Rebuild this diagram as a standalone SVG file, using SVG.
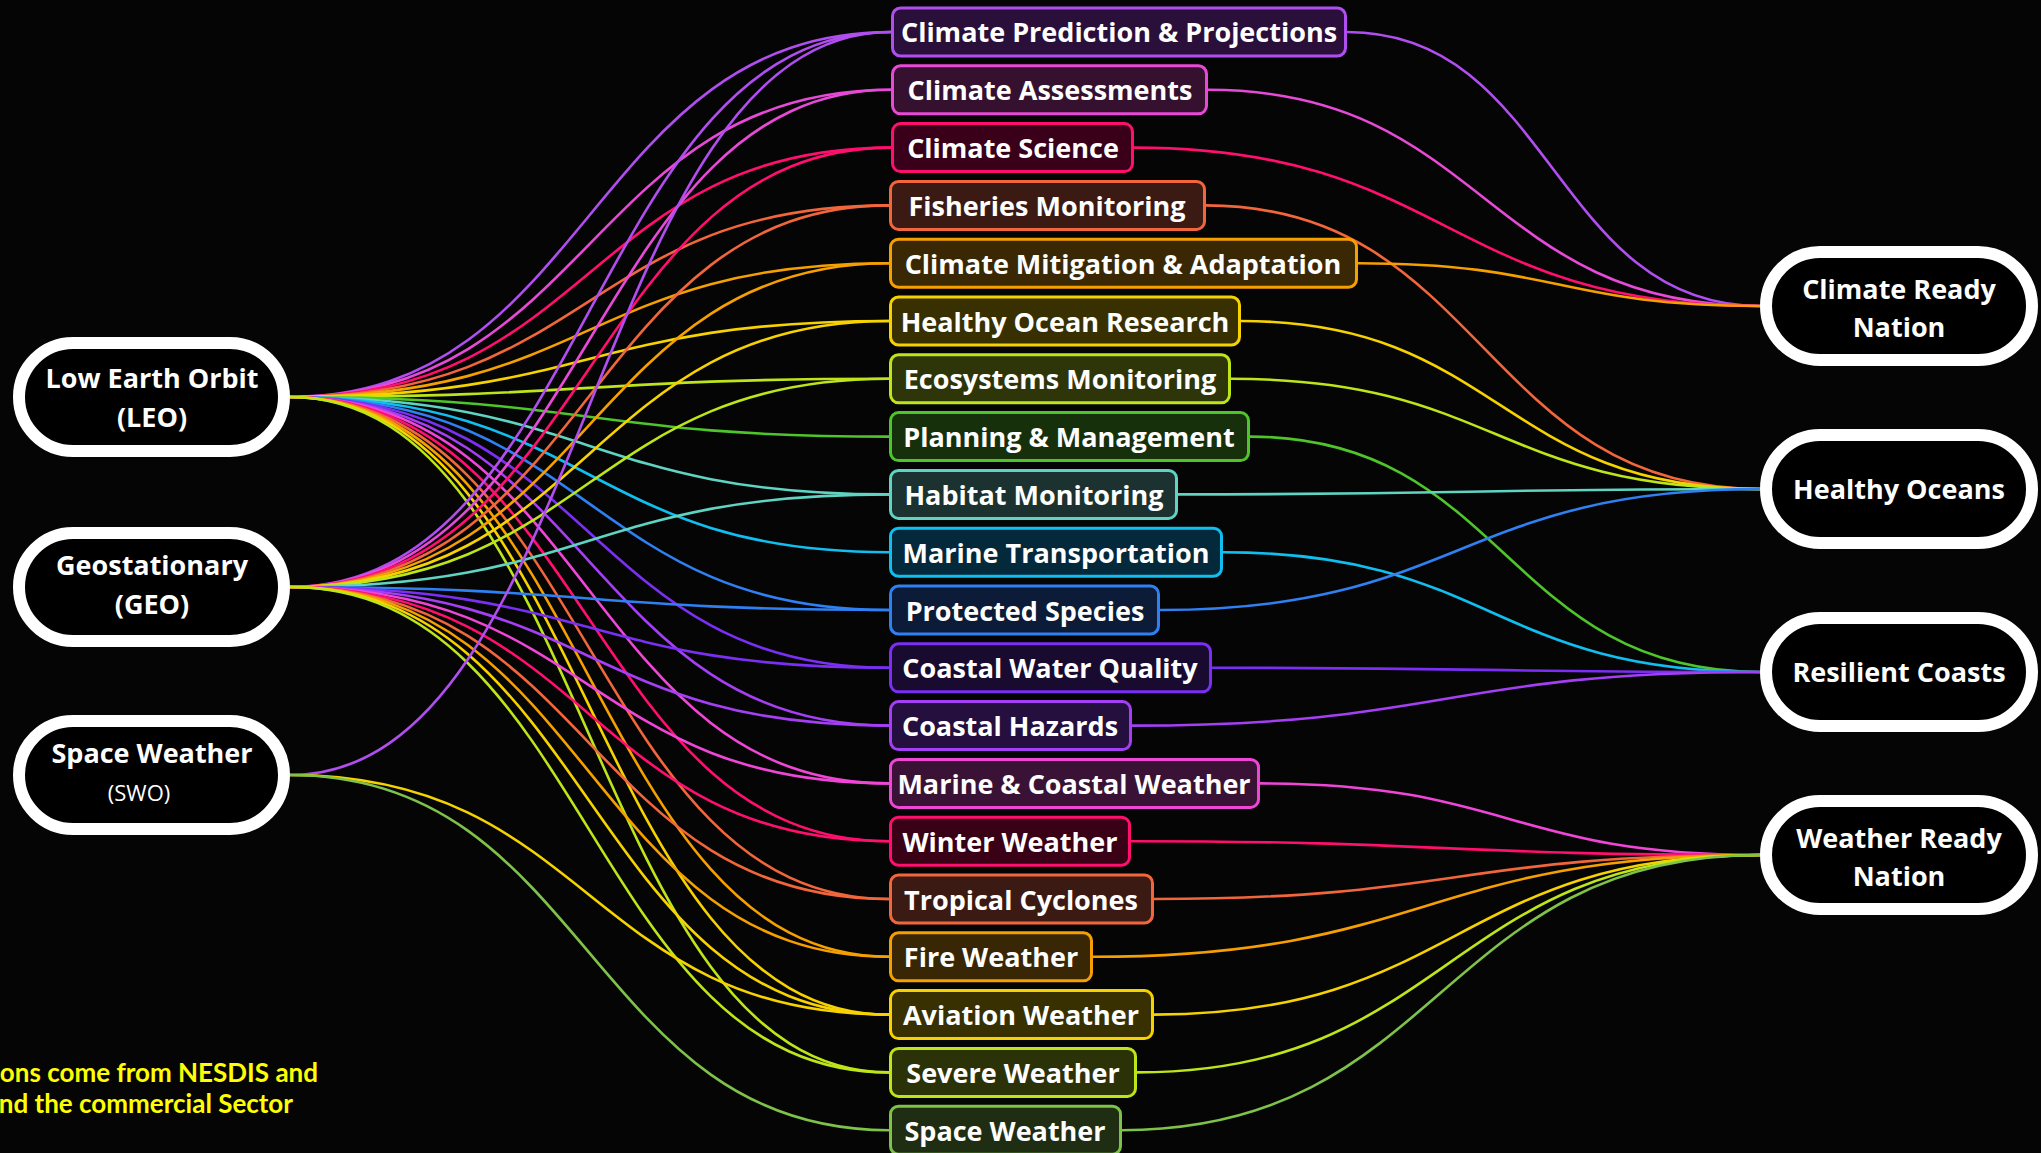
<svg xmlns="http://www.w3.org/2000/svg" width="2041" height="1153" viewBox="0 0 2041 1153">
<style>
.bg{fill:#050505}
.conn path{fill:none;stroke-width:2.6}
.pill{fill:#000;stroke:#fff;stroke-width:12}
.pt{font-family:"Open Sans","Noto Sans",sans-serif;font-weight:700;font-size:27px;fill:#fff;text-anchor:middle}
.sub{font-family:"Open Sans","Noto Sans",sans-serif;font-weight:400;font-size:22px;fill:#fff;text-anchor:middle}
.box{stroke-width:3}
.lbl{font-family:"Open Sans","Noto Sans",sans-serif;font-weight:700;font-size:27px;fill:#fff;text-anchor:middle}
.note{font-family:Lato,"Open Sans",sans-serif;font-weight:700;font-size:26px;fill:#ffff00;text-anchor:end}
.s0{stroke:#b14ef0}.f0{fill:#2b0f3b}
.s1{stroke:#e84ad8}.f1{fill:#35112f}
.s2{stroke:#ff0f6e}.f2{fill:#3a0019}
.s3{stroke:#f2663c}.f3{fill:#3a1a12}
.s4{stroke:#f5a000}.f4{fill:#3a2805}
.s5{stroke:#f5d200}.f5{fill:#383000}
.s6{stroke:#bde51a}.f6{fill:#2e3508}
.s7{stroke:#4ec52a}.f7{fill:#17300c}
.s8{stroke:#5fd4c2}.f8{fill:#1b3230}
.s9{stroke:#10bfef}.f9{fill:#03293a}
.s10{stroke:#2f80f2}.f10{fill:#0b1b38}
.s11{stroke:#7b2ff5}.f11{fill:#190b30}
.s12{stroke:#a43ff5}.f12{fill:#250f3e}
.s13{stroke:#f046d8}.f13{fill:#3a1236}
.s14{stroke:#ff0f6e}.f14{fill:#3a0016}
.s15{stroke:#f2663c}.f15{fill:#3a1a12}
.s16{stroke:#f5a000}.f16{fill:#382605}
.s17{stroke:#f5d200}.f17{fill:#383000}
.s18{stroke:#bde51a}.f18{fill:#2c3208}
.s19{stroke:#7fc24a}.f19{fill:#1f2e12}
</style>
<rect class="bg" x="0" y="0" width="2041" height="1153"/>

<g id="connectors" class="conn">
<!-- LEO -->
<path class="s0" d="M290,397 C590,397 590,32 891,32"/>
<path class="s1" d="M290,397 C590,397 590,89.8 891,89.8"/>
<path class="s2" d="M290,397 C590,397 590,147.6 891,147.6"/>
<path class="s3" d="M290,397 C589,397 589,205.4 889,205.4"/>
<path class="s4" d="M290,397 C589,397 589,263.2 889,263.2"/>
<path class="s5" d="M290,397 C589,397 589,321 889,321"/>
<path class="s6" d="M290,397 C589,397 589,378.8 889,378.8"/>
<path class="s7" d="M290,397 C589,397 589,436.6 889,436.6"/>
<path class="s8" d="M290,397 C589,397 589,494.4 889,494.4"/>
<path class="s9" d="M290,397 C589,397 589,552.2 889,552.2"/>
<path class="s10" d="M290,397 C589,397 589,610 889,610"/>
<path class="s11" d="M290,397 C589,397 589,667.8 889,667.8"/>
<path class="s12" d="M290,397 C589,397 589,725.6 889,725.6"/>
<path class="s13" d="M290,397 C589,397 589,783.4 889,783.4"/>
<path class="s14" d="M290,397 C589,397 589,841.2 889,841.2"/>
<path class="s15" d="M290,397 C589,397 589,899 889,899"/>
<path class="s16" d="M290,397 C589,397 589,956.8 889,956.8"/>
<path class="s17" d="M290,397 C589,397 589,1014.6 889,1014.6"/>
<path class="s18" d="M290,397 C589,397 589,1072.4 889,1072.4"/>
<!-- GEO -->
<path class="s0" d="M290,587 C590,587 590,32 891,32"/>
<path class="s1" d="M290,587 C590,587 590,89.8 891,89.8"/>
<path class="s2" d="M290,587 C590,587 590,147.6 891,147.6"/>
<path class="s3" d="M290,587 C589,587 589,205.4 889,205.4"/>
<path class="s4" d="M290,587 C589,587 589,263.2 889,263.2"/>
<path class="s5" d="M290,587 C589,587 589,321 889,321"/>
<path class="s6" d="M290,587 C589,587 589,378.8 889,378.8"/>
<path class="s8" d="M290,587 C589,587 589,494.4 889,494.4"/>
<path class="s10" d="M290,587 C589,587 589,610 889,610"/>
<path class="s11" d="M290,587 C589,587 589,667.8 889,667.8"/>
<path class="s12" d="M290,587 C589,587 589,725.6 889,725.6"/>
<path class="s13" d="M290,587 C589,587 589,783.4 889,783.4"/>
<path class="s14" d="M290,587 C589,587 589,841.2 889,841.2"/>
<path class="s15" d="M290,587 C589,587 589,899 889,899"/>
<path class="s16" d="M290,587 C589,587 589,956.8 889,956.8"/>
<path class="s17" d="M290,587 C589,587 589,1014.6 889,1014.6"/>
<path class="s18" d="M290,587 C589,587 589,1072.4 889,1072.4"/>
<!-- SWO -->
<path class="s0" d="M290,775 C590,775 590,32 891,32"/>
<path class="s17" d="M290,775 C589,775 589,1014.6 889,1014.6"/>
<path class="s19" d="M290,775 C589,775 589,1130.2 889,1130.2"/>
<!-- right side -->
<path class="s0" d="M1347,32 C1553,32 1553,306 1760,306"/>
<path class="s1" d="M1208,89.8 C1484,89.8 1484,306 1760,306"/>
<path class="s2" d="M1134,147.6 C1447,147.6 1447,306 1760,306"/>
<path class="s3" d="M1206,205.4 C1483,205.4 1483,489 1760,489"/>
<path class="s4" d="M1358,263.2 C1559,263.2 1559,306 1760,306"/>
<path class="s5" d="M1241,321 C1500,321 1500,489 1760,489"/>
<path class="s6" d="M1231,378.8 C1495,378.8 1495,489 1760,489"/>
<path class="s7" d="M1250,436.6 C1505,436.6 1505,672 1760,672"/>
<path class="s8" d="M1178,494.4 C1469,494.4 1469,489 1760,489"/>
<path class="s9" d="M1223,552.2 C1491,552.2 1491,672 1760,672"/>
<path class="s10" d="M1160,610 C1460,610 1460,489 1760,489"/>
<path class="s11" d="M1212,667.8 C1486,667.8 1486,672 1760,672"/>
<path class="s12" d="M1132,725.6 C1446,725.6 1446,672 1760,672"/>
<path class="s13" d="M1260,783.4 C1510,783.4 1510,855 1760,855"/>
<path class="s14" d="M1131,841.2 C1445,841.2 1445,855 1760,855"/>
<path class="s15" d="M1154,899 C1457,899 1457,855 1760,855"/>
<path class="s16" d="M1093,956.8 C1426,956.8 1426,855 1760,855"/>
<path class="s17" d="M1154,1014.6 C1457,1014.6 1457,855 1760,855"/>
<path class="s18" d="M1137,1072.4 C1448,1072.4 1448,855 1760,855"/>
<path class="s19" d="M1122,1130.2 C1441,1130.2 1441,855 1760,855"/>
</g>

<!-- left source nodes -->
<g id="leo"><rect class="pill" x="19" y="343" width="265" height="108" rx="54"/><text class="pt" x="152" y="388">Low Earth Orbit</text><text class="pt" x="152" y="427">(LEO)</text></g>
<g id="geo"><rect class="pill" x="19" y="533" width="265" height="108" rx="54"/><text class="pt" x="152" y="575">Geostationary</text><text class="pt" x="152" y="614">(GEO)</text></g>
<g id="swo"><rect class="pill" x="19" y="721" width="265" height="108" rx="54"/><text class="pt" x="152" y="763">Space Weather</text><rect x="87" y="778" width="105" height="35" fill="#000"/><text class="sub" x="139" y="801">(SWO)</text></g>

<!-- right goal nodes -->
<g id="climate-ready"><rect class="pill" x="1766" y="252" width="266" height="108" rx="54"/><text class="pt" x="1899" y="299">Climate Ready</text><text class="pt" x="1899" y="337">Nation</text></g>
<g id="healthy-oceans"><rect class="pill" x="1766" y="435" width="266" height="108" rx="54"/><text class="pt" x="1899" y="499">Healthy Oceans</text></g>
<g id="resilient-coasts"><rect class="pill" x="1766" y="618" width="266" height="108" rx="54"/><text class="pt" x="1899" y="682">Resilient Coasts</text></g>
<g id="weather-ready"><rect class="pill" x="1766" y="801" width="266" height="108" rx="54"/><text class="pt" x="1899" y="848">Weather Ready</text><text class="pt" x="1899" y="886">Nation</text></g>

<!-- middle nodes -->
<g id="n0"><rect class="box s0 f0" x="892.5" y="8" width="453" height="48" rx="8"/><text class="lbl" x="1119" y="42">Climate Prediction &amp; Projections</text></g>
<g id="n1"><rect class="box s1 f1" x="892.5" y="65.8" width="314" height="48" rx="8"/><text class="lbl" x="1050" y="100">Climate Assessments</text></g>
<g id="n2"><rect class="box s2 f2" x="892.5" y="123.6" width="240" height="48" rx="8"/><text class="lbl" x="1013" y="158">Climate Science</text></g>
<g id="n3"><rect class="box s3 f3" x="890.5" y="181.4" width="314" height="48" rx="8"/><text class="lbl" x="1047" y="216">Fisheries Monitoring</text></g>
<g id="n4"><rect class="box s4 f4" x="890.5" y="239.2" width="466" height="48" rx="8"/><text class="lbl" x="1123" y="274">Climate Mitigation &amp; Adaptation</text></g>
<g id="n5"><rect class="box s5 f5" x="890.5" y="297" width="349" height="48" rx="8"/><text class="lbl" x="1065" y="332">Healthy Ocean Research</text></g>
<g id="n6"><rect class="box s6 f6" x="890.5" y="354.8" width="339" height="48" rx="8"/><text class="lbl" x="1060" y="389">Ecosystems Monitoring</text></g>
<g id="n7"><rect class="box s7 f7" x="890.5" y="412.6" width="358" height="48" rx="8"/><text class="lbl" x="1069" y="447">Planning &amp; Management</text></g>
<g id="n8"><rect class="box s8 f8" x="890.5" y="470.4" width="286" height="48" rx="8"/><text class="lbl" x="1034" y="505">Habitat Monitoring</text></g>
<g id="n9"><rect class="box s9 f9" x="890.5" y="528.2" width="331" height="48" rx="8"/><text class="lbl" x="1056" y="563">Marine Transportation</text></g>
<g id="n10"><rect class="box s10 f10" x="890.5" y="586" width="268" height="48" rx="8"/><text class="lbl" x="1025" y="621">Protected Species</text></g>
<g id="n11"><rect class="box s11 f11" x="890.5" y="643.8" width="320" height="48" rx="8"/><text class="lbl" x="1050" y="678">Coastal Water Quality</text></g>
<g id="n12"><rect class="box s12 f12" x="890.5" y="701.6" width="240" height="48" rx="8"/><text class="lbl" x="1010" y="736">Coastal Hazards</text></g>
<g id="n13"><rect class="box s13 f13" x="890.5" y="759.4" width="368" height="48" rx="8"/><text class="lbl" x="1074" y="794">Marine &amp; Coastal Weather</text></g>
<g id="n14"><rect class="box s14 f14" x="890.5" y="817.2" width="239" height="48" rx="8"/><text class="lbl" x="1010" y="852">Winter Weather</text></g>
<g id="n15"><rect class="box s15 f15" x="890.5" y="875" width="262" height="48" rx="8"/><text class="lbl" x="1021" y="910">Tropical Cyclones</text></g>
<g id="n16"><rect class="box s16 f16" x="890.5" y="932.8" width="201" height="48" rx="8"/><text class="lbl" x="991" y="967">Fire Weather</text></g>
<g id="n17"><rect class="box s17 f17" x="890.5" y="990.6" width="262" height="48" rx="8"/><text class="lbl" x="1021" y="1025">Aviation Weather</text></g>
<g id="n18"><rect class="box s18 f18" x="890.5" y="1048.4" width="245" height="48" rx="8"/><text class="lbl" x="1013" y="1083">Severe Weather</text></g>
<g id="n19"><rect class="box s19 f19" x="890.5" y="1106.2" width="230" height="48" rx="8"/><text class="lbl" x="1005" y="1141">Space Weather</text></g>

<g id="note"><text class="note" x="318" y="1082">ons come from NESDIS and</text><text class="note" x="293" y="1113">nd the commercial Sector</text></g>
</svg>
